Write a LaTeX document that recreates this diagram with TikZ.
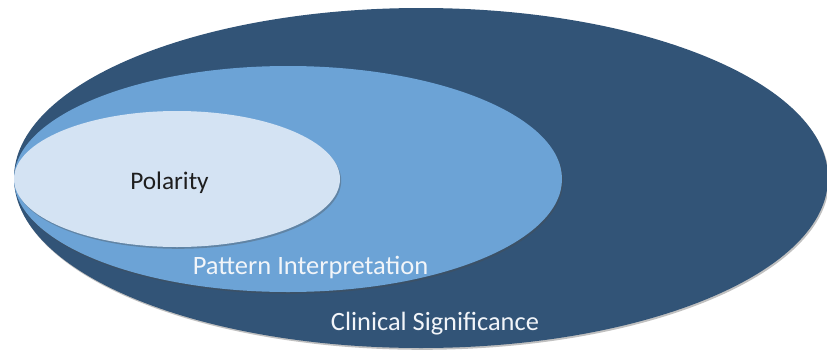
\documentclass[tikz,border=0pt]{standalone}
\usepackage{fontspec}
\setmainfont{Carlito}
\usetikzlibrary{shadows}
\definecolor{outerblue}{HTML}{325477}
\definecolor{midblue}{HTML}{6CA3D6}
\definecolor{innerblue}{HTML}{D4E3F3}
\definecolor{darktext}{HTML}{1E1E1E}
\definecolor{lighttext}{HTML}{F2F5F9}
\tikzset{
  blob/.style={drop shadow={shadow xshift=1.2pt,shadow yshift=-1.8pt,opacity=.35,fill=black!70}},
  lbl/.style={anchor=base, inner sep=0pt},
}
\begin{document}
\begin{tikzpicture}[x=1pt,y=-1pt]
\useasboundingbox (0,0) rectangle (827,351);
\fill[white] (0,0) rectangle (827,351);
\fill[outerblue, blob] (421,178) ellipse [x radius=407, y radius=170];
\fill[midblue, blob] (288,179) ellipse [x radius=274, y radius=113];
\fill[innerblue, blob] (177,179) ellipse [x radius=163, y radius=68];
\node[lbl, text=darktext, font=\fontsize{25.3}{30}\selectfont] (pol) at (169.5,189) {Polarity};
\node[lbl, text=lighttext, font=\fontsize{26.5}{31}\selectfont] (pat) at (310.5,274) {Pattern Interpretation};
\node[lbl, text=lighttext, font=\fontsize{26.4}{31}\selectfont] (cli) at (435,330.5) {Clinical Significance};
\end{tikzpicture}
\end{document}
